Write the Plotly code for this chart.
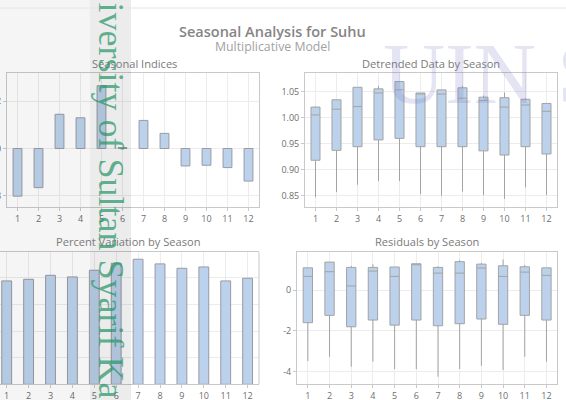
import plotly.graph_objects as go

# datos
meses = list(range(1, 13))
etiquetas = [str(m) for m in meses]

indices = [0.9798, 0.9834, 1.0145, 1.0130, 1.0266, 1.0004, 1.0119, 1.0064, 0.9926, 0.9929, 0.9919, 0.9862]

det_min = [0.847, 0.857, 0.871, 0.878, 0.878, 0.853, 0.850, 0.858, 0.851, 0.844, 0.866, 0.851]
det_q1 = [0.918, 0.937, 0.944, 0.957, 0.960, 0.944, 0.944, 0.944, 0.936, 0.928, 0.944, 0.930]
det_med = [1.005, 1.016, 1.021, 1.047, 1.053, 1.046, 1.045, 1.037, 1.033, 1.020, 1.024, 1.012]
det_q3 = [1.020, 1.034, 1.058, 1.055, 1.069, 1.047, 1.053, 1.057, 1.039, 1.038, 1.035, 1.027]
det_max = [1.021, 1.034, 1.058, 1.061, 1.069, 1.047, 1.053, 1.061, 1.042, 1.048, 1.037, 1.027]

pct_var = [7.77, 7.89, 8.19, 8.07, 8.57, 9.10, 9.40, 9.05, 8.72, 8.82, 7.77, 7.97]

res_min = [-3.48, -3.27, -3.76, -3.51, -3.87, -3.87, -4.25, -3.87, -3.71, -3.92, -3.27, -3.51]
res_q1 = [-1.60, -1.24, -1.80, -1.47, -1.72, -1.47, -1.75, -1.65, -1.42, -1.68, -1.24, -1.47]
res_med = [0.67, 0.90, 0.20, 0.93, 0.67, 1.25, 0.83, 0.83, 1.08, 0.67, 0.88, 0.72]
res_q3 = [1.09, 1.37, 1.11, 1.11, 1.13, 1.29, 1.11, 1.39, 1.27, 1.19, 1.14, 1.09]
res_max = [1.09, 1.37, 1.19, 1.26, 1.13, 1.29, 1.16, 1.47, 1.34, 1.50, 1.23, 1.09]

W, H = 566, 400
def px(x):
    return x / W
def py(y):
    return 1 - y / H

azul = '#bcd2ec'
borde = '#9a9aa2'
gris_txt = '#6e6e6e'
grid = '#ececec'

fig = go.Figure()

# Seasonal Indices
fig.add_trace(go.Bar(x=meses, y=[v - 1 for v in indices], base=1, width=0.42,
                     marker=dict(color=azul, line=dict(color=borde, width=1)),
                     xaxis='x', yaxis='y', showlegend=False))

# Detrended Data by Season
fig.add_trace(go.Box(x=meses, q1=det_q1, median=det_med, q3=det_q3,
                     lowerfence=det_min, upperfence=det_max, width=0.43,
                     fillcolor=azul, line=dict(color='#a3a3a3', width=1), whiskerwidth=0,
                     xaxis='x2', yaxis='y2', showlegend=False))

# Percent Variation by Season
fig.add_trace(go.Bar(x=meses, y=pct_var, width=0.45,
                     marker=dict(color=azul, line=dict(color=borde, width=1)),
                     xaxis='x3', yaxis='y3', showlegend=False))

# Residuals by Season
fig.add_trace(go.Box(x=meses, q1=res_q1, median=res_med, q3=res_q3,
                     lowerfence=res_min, upperfence=res_max, width=0.43,
                     fillcolor=azul, line=dict(color='#a3a3a3', width=1), whiskerwidth=0,
                     xaxis='x4', yaxis='y4', showlegend=False))

eje = dict(showgrid=True, gridcolor=grid, zeroline=False, showline=True, mirror=True,
           linecolor='#c9c9c9', linewidth=1, ticks='outside', ticklen=3, tickcolor='#c9c9c9',
           automargin=False,
           tickfont=dict(family='Open Sans', size=9, color=gris_txt))
ejex = dict(eje, tickvals=meses, ticktext=etiquetas)

fig.update_layout(
    width=W, height=H, margin=dict(l=0, r=0, t=0, b=0),
    paper_bgcolor='white', plot_bgcolor='white',
    xaxis=dict(ejex, domain=[px(7), px(259)], range=[0.5, 12.5], anchor='y'),
    yaxis=dict(eje, domain=[py(207), py(73)], range=[0.9752, 1.032], anchor='x',
               tickvals=[0.98, 1.00, 1.02], ticktext=['0.98', '1.00', '1.02']),
    xaxis2=dict(ejex, domain=[px(305), px(557)], range=[0.5, 12.5], anchor='y2'),
    yaxis2=dict(eje, domain=[py(207), py(73)], range=[0.8283, 1.0854], anchor='x2',
                tickvals=[0.85, 0.90, 0.95, 1.00, 1.05], ticktext=['0.85', '0.90', '0.95', '1.00', '1.05']),
    xaxis3=dict(ejex, domain=[0, px(259)], range=[0.694, 12.52], anchor='y3', mirror=True),
    yaxis3=dict(eje, domain=[py(384.3), py(252.3)], range=[0, 9.92], anchor='x3',
                dtick=2, showline=False, showticklabels=False, ticks=''),
    xaxis4=dict(ejex, domain=[px(297), px(557.3)], range=[0.5, 12.5], anchor='y4'),
    yaxis4=dict(eje, domain=[py(384.3), py(251.7)], range=[-4.62, 1.88], anchor='x4',
                tickvals=[-4, -2, 0], ticktext=['-4', '-2', '0']),
)

# borde derecho del panel 3
fig.add_shape(type='line', xref='paper', yref='paper', x0=px(259), x1=px(259),
              y0=py(384.3), y1=py(252.3), line=dict(color='#c9c9c9', width=1))

# titulos
fig.add_annotation(text='Seasonal Analysis for Suhu', xref='paper', yref='paper',
                   x=px(272), y=py(32), xanchor='center', yanchor='middle', showarrow=False,
                   font=dict(family='Open Sans', size=14.5, color='#858585', weight=600))
fig.add_annotation(text='Multiplicative Model', xref='paper', yref='paper',
                   x=px(272), y=py(46), xanchor='center', yanchor='middle', showarrow=False,
                   font=dict(family='Open Sans', size=12.3, color='#a2a2a2'))
for txt, x, y in [('Seasonal Indices', 134, 63.5), ('Detrended Data by Season', 431, 63.5),
                  ('Percent Variation by Season', 128, 241), ('Residuals by Season', 427, 241)]:
    fig.add_annotation(text=txt, xref='paper', yref='paper', x=px(x), y=py(y),
                       xanchor='center', yanchor='middle', showarrow=False,
                       font=dict(family='Open Sans', size=11.1, color='#7a7a7a'))

# franjas grises del escaneo
fig.add_shape(type='rect', xref='paper', yref='paper', x0=0, x1=px(90), y0=0, y1=1,
              fillcolor='rgba(0,0,0,0.04)', line=dict(width=0), layer='above')
fig.add_shape(type='rect', xref='paper', yref='paper', x0=px(90), x1=px(131), y0=0, y1=1,
              fillcolor='rgba(0,0,0,0.075)', line=dict(width=0), layer='above')
fig.add_shape(type='line', xref='paper', yref='paper', x0=0, x1=1, y0=py(8), y1=py(8),
              line=dict(color='#e4e4e4', width=1), layer='above')

# marcas de agua
fig.add_annotation(text='UIN S', xref='paper', yref='paper', x=px(381), y=py(74),
                   xanchor='left', yanchor='middle', showarrow=False,
                   font=dict(family='Liberation Serif', size=86, color='rgba(120,120,190,0.2)'))
fig.add_annotation(text='iversity of Sultan Syarif Kasim Riau', xref='paper', yref='paper',
                   x=px(111), y=py(0), xanchor='center', yanchor='top', textangle=90,
                   showarrow=False,
                   font=dict(family='Liberation Serif', size=36, color='rgba(40,150,105,0.72)'))

fig.write_html("out.html", config={'displayModeBar': False},
               post_script="document.body.style.margin='0';")
